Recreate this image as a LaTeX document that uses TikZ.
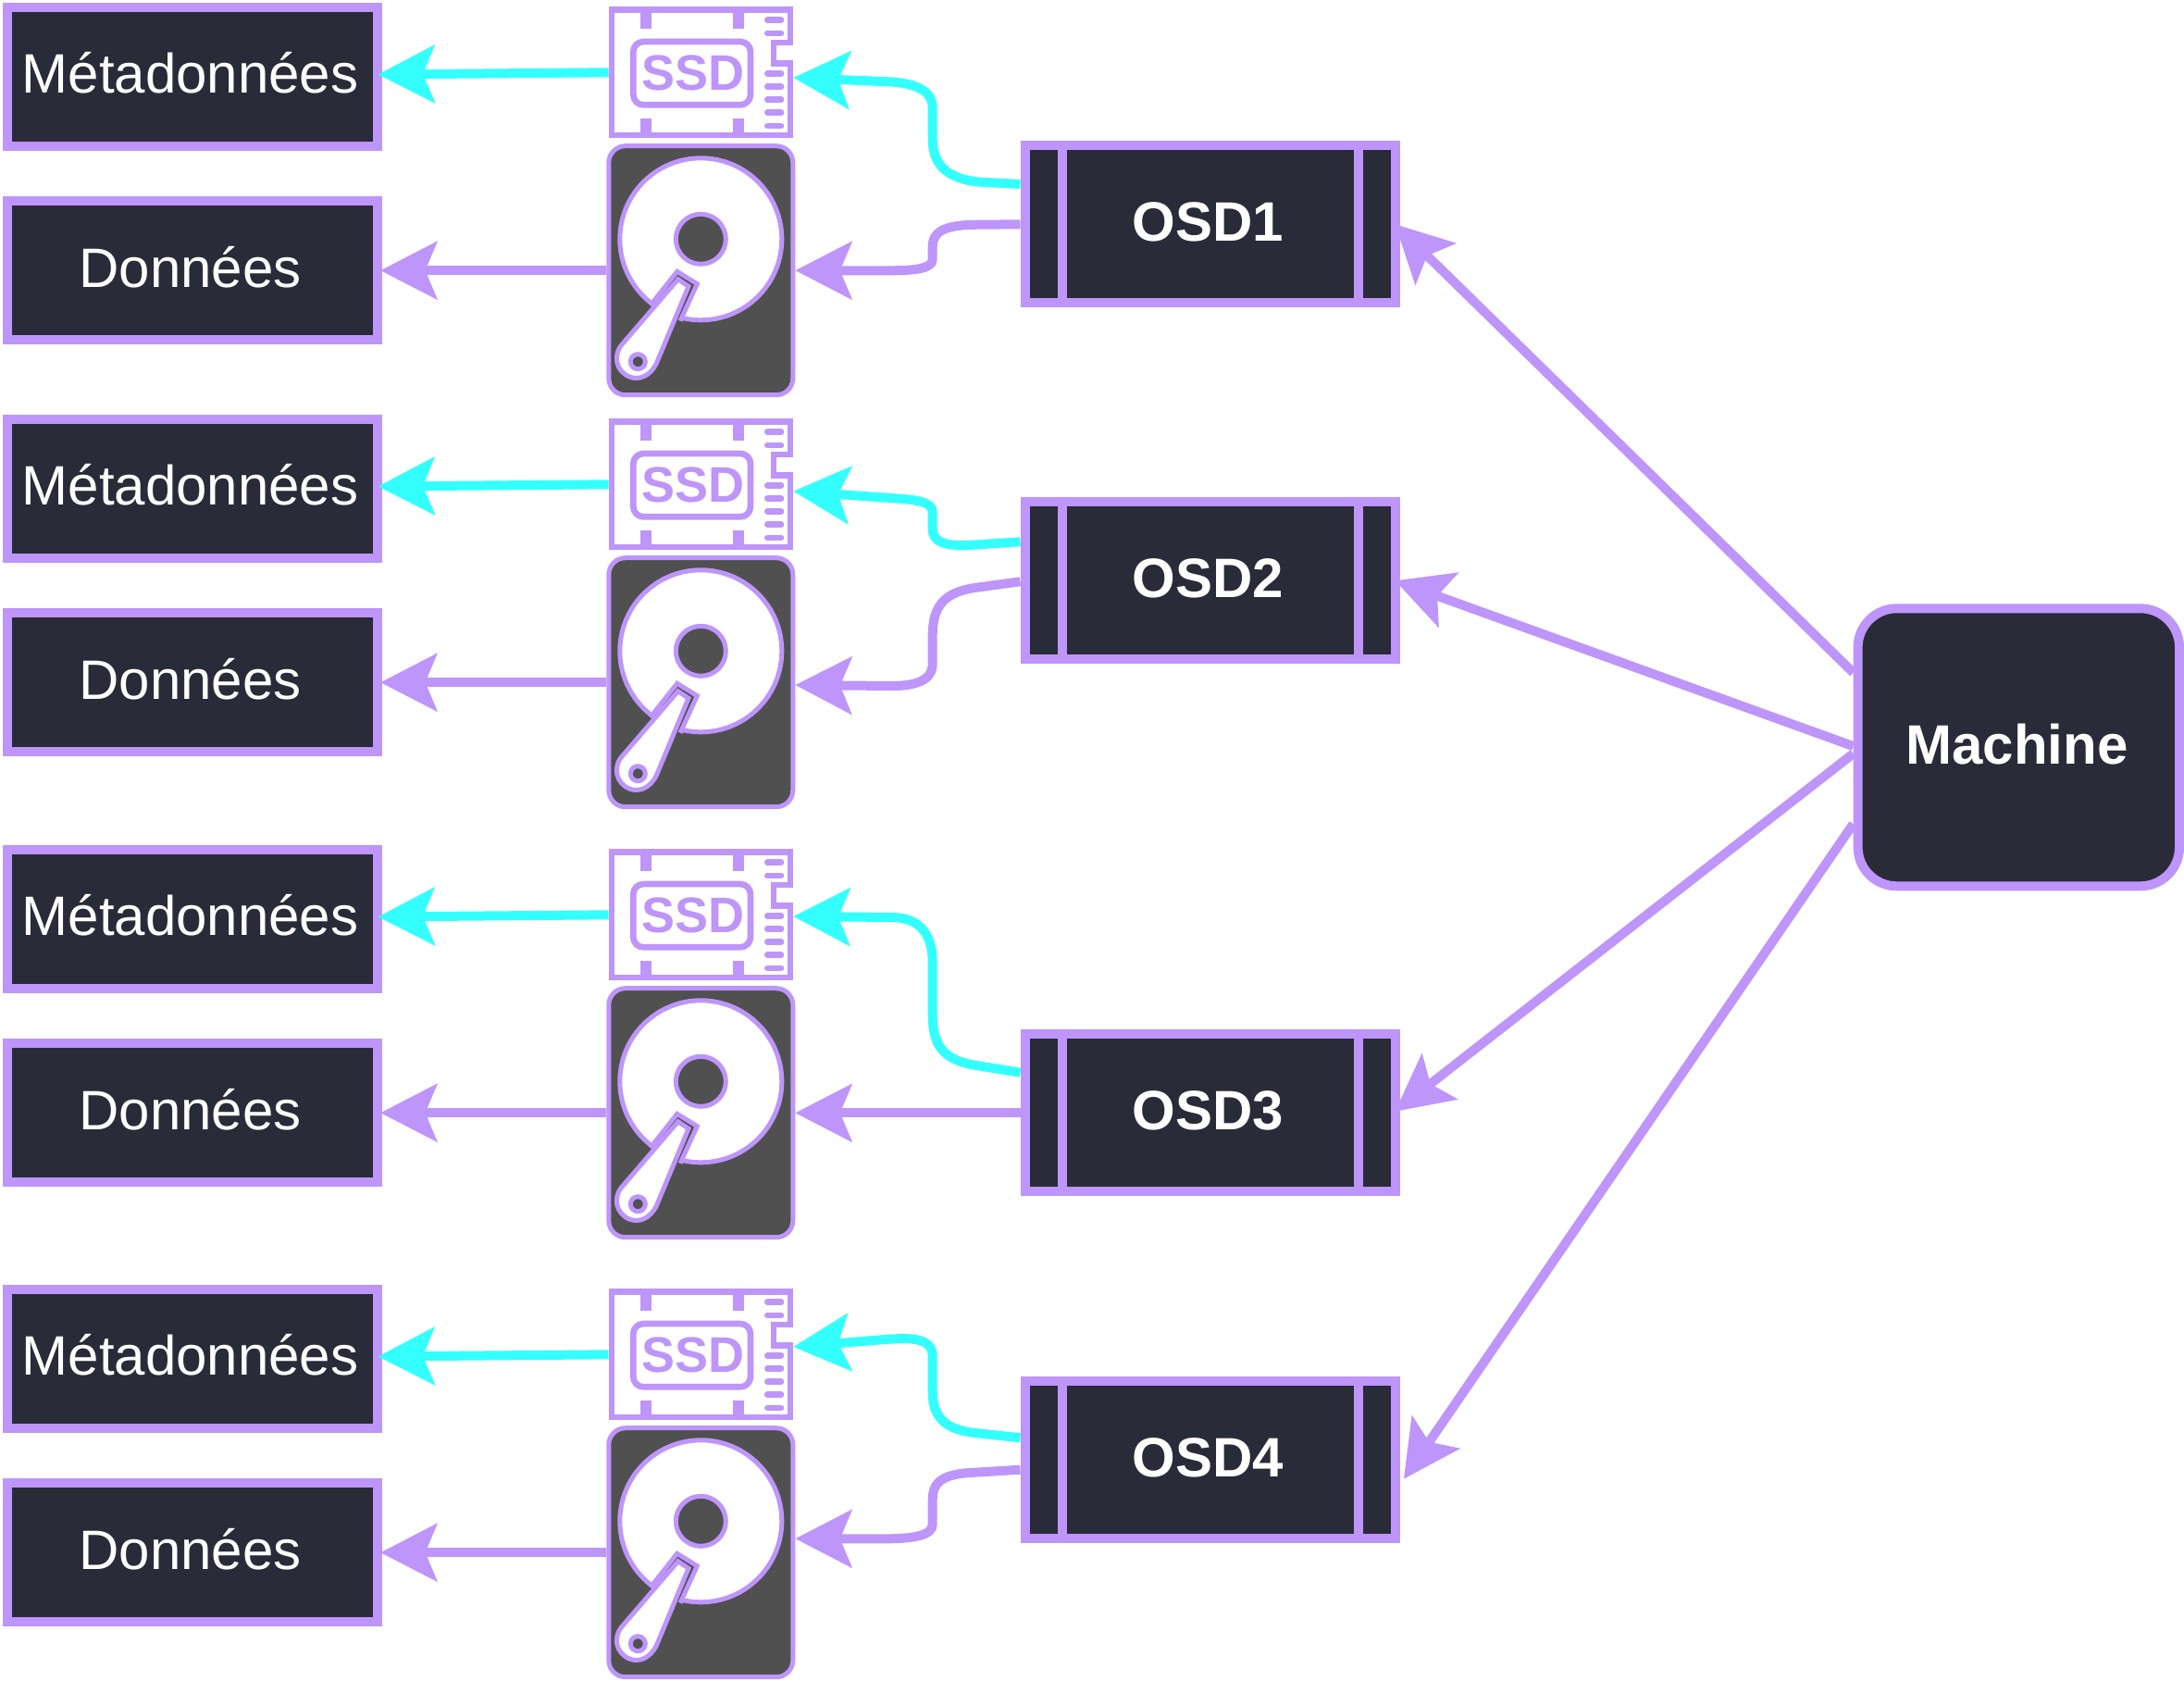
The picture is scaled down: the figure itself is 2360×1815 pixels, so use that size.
\documentclass[tikz,border=0pt]{standalone}
\usepackage{fontspec}
\setmainfont{Liberation Sans}
\usetikzlibrary{arrows.meta}
\definecolor{violetline}{HTML}{BE95FA}
\definecolor{darkfill}{HTML}{2A2B38}
\definecolor{diskfill}{HTML}{505050}
\definecolor{cyanline}{HTML}{33FFFF}
\tikzset{
	storebox/.style={draw=violetline,fill=darkfill,line width=5pt,inner sep=0pt,text=white,
		minimum width=200pt,minimum height=75pt,text height=24pt,text depth=6pt,
		execute at end node=\hspace*{2pt},
		font=\fontsize{30pt}{30pt}\selectfont},
	osdbox/.style={storebox,minimum height=85pt,font=\fontsize{30pt}{30pt}\selectfont\bfseries},
	machinebox/.style={osdbox,rounded corners=21pt,minimum width=173.7pt,minimum height=150pt},
	ssdbox/.style={inner sep=0pt,outer sep=0pt,minimum width=99.8pt,minimum height=71pt},
	ssdline/.style={draw=violetline,line width=3.35pt},
	ssdtext/.style={inner sep=0pt,text=violetline,font=\fontsize{27pt}{27pt}\selectfont\bfseries},
	hddbox/.style={draw=violetline,fill=diskfill,line width=2.5pt,rounded corners=9pt,inner sep=0pt,
		minimum width=99.5pt,minimum height=134.5pt},
	diskline/.style={draw=violetline,line width=2.5pt},
	flowline/.style={draw=violetline,line width=5pt,-{Stealth[length=30.5pt,width=31pt,inset=6.3pt]}},
	flowcyan/.style={flowline,draw=cyanline,-{Stealth[length=30.5pt,width=31pt,inset=6.3pt,fill=cyanline]}}
}
\begin{document}
\begin{tikzpicture}[x=0.5pt,y=-0.5pt]
	\useasboundingbox (0,0) rectangle (2360,1815);
	
	% one row per OSD: two boxes, the ssd and the disk
	\foreach \r/\off in {1/0,2/445,3/910,4/1385}{
		\begin{scope}[shift={(0,\off)}]
			\node[storebox] (meta\r) at (207.5,82.5) {Métadonnées};
			\node[storebox] (data\r) at (207.5,292.2) {Données};
			
			% ssd
			\node[ssdbox] (ssd\r) at (757.5,78.3) {};
			\draw[ssdline,fill=white](661,10.7)--(854,10.7)--(854,46)--(836,46)--(836,68.3)--(854,68.3)--(854,146)--(661,146)--cycle;
			\foreach \x in {691.7,791.7}{
				\fill[violetline](\x,10.7) rectangle (\x+12.6,30.7);
				\fill[violetline](\x,127.7) rectangle (\x+12.6,146);
			}
			\foreach \y in {21.7,36,79.3,93.3,107.7,121.7,136}{
				\draw[ssdline,line cap=round](829.3,\y)--(844,\y);
			}
			\draw[ssdline,rounded corners=5.5pt](684.3,45) rectangle (811,113.3);
			\node[ssdtext] (ssdlabel\r) at (748.7,79.3) {SSD};
			
			% disk
			\node[hddbox] (hdd\r) at (757.3,292.2) {};
			\draw[diskline,fill=white](757.3,258.3) circle [radius=43.75pt];
			\draw[diskline,fill=diskfill](757.3,258.3) circle [radius=13.5pt];
			\fill[diskfill](701.5,331.5)--(731.7,293.3)--(753.3,306.7)--(734.5,349)--(713,349)--cycle;
			\draw[diskline,line join=miter](702.7,330)--(731.7,293.3)--(753.3,306.7)--(735,346.7);
			\draw[diskline,fill=white,line join=miter](673.3,370.7)--(732.7,301.7)--(744,309.3)--(709.3,392.7) .. controls (702,407) and (690,411) .. (680,407) .. controls (666,401) and (661,384) .. (673.3,370.7)--cycle;
			\draw[diskline,fill=diskfill](689.3,390.7) circle [radius=4pt];
		\end{scope}
		\draw[flowcyan] (ssd\r.west) -- ([shift={(-2pt,1pt)}]meta\r.east);
		\draw[flowline] (hdd\r.west) -- ([xshift=-0.7pt]data\r.east);
	}
	
	\node[osdbox] (osd1) at (1307.5,242.3) {OSD1};
	\node[osdbox] (osd2) at (1307.5,627.3) {OSD2};
	\node[osdbox] (osd3) at (1307.5,1202.3) {OSD3};
	\node[osdbox] (osd4) at (1307.5,1577.3) {OSD4};
	\foreach \r in {1,2,3,4}{
		\draw[violetline,line width=5pt]([xshift=22.5pt]osd\r.north west)--([xshift=22.5pt]osd\r.south west);
		\draw[violetline,line width=5pt]([xshift=-22.5pt]osd\r.north east)--([xshift=-22.5pt]osd\r.south east);
	}
	\node[machinebox] (machine) at (2181.3,807.3) {Machine};
	
	% osd to ssd
	\draw[flowcyan] ([yshift=21.65pt]osd1.west) -- (1058.8,196.7) .. controls (1020,193) and (1007.7,175) .. (1007.7,150) -- (1007.7,116.7) .. controls (1007.7,98) and (990,90) .. (960.5,88.3) -- ([yshift=-2.85pt]ssd1.east);
	\draw[flowcyan] ([yshift=21pt]osd2.west) -- (1046.7,589) .. controls (1020,590) and (1007.7,585) .. (1007.7,571.7) -- (1007.7,553.3) .. controls (1007.7,542) and (990,540) .. (966.7,538.3) -- ([yshift=-3.7pt]ssd2.east);
	\draw[flowcyan] ([yshift=21.8pt]osd3.west) -- (1053.3,1150.7) .. controls (1020,1145) and (1007.7,1130) .. (1007.7,1096.7) -- (1007.7,1040) .. controls (1007.7,1005) and (990,991) .. (963.3,991) -- ([yshift=-0.85pt]ssd3.east);
	\draw[flowcyan] ([yshift=12pt]osd4.west) -- (1056.7,1548.3) .. controls (1020,1545) and (1007.7,1530) .. (1007.7,1503.3) -- (1007.7,1465) .. controls (1007.7,1450) and (995,1446) .. (973.3,1446) -- (956.7,1447) -- ([yshift=4.15pt]ssd4.east);
	
	% osd to disk
	\draw[flowline] (osd1.west) -- (1058.8,242.7) .. controls (1020,242.7) and (1007.7,250) .. (1007.7,266.7) -- (1007.7,280) .. controls (1007.7,290) and (990,292.3) .. (960.5,292.3) -- (hdd1.east);
	\draw[flowline] ([yshift=-0.5pt]osd2.west) -- (1053.3,635) .. controls (1020,640) and (1007.7,655) .. (1007.7,686.7) -- (1007.7,716.7) .. controls (1007.7,735) and (990,741) .. (963.3,741) -- ([yshift=-1.4pt]hdd2.east);
	\draw[flowline] (osd3.west) -- (hdd3.east |- osd3.west);
	\draw[flowline] ([yshift=-5.2pt]osd4.west) -- (1053.3,1590.7) .. controls (1020,1592) and (1007.7,1600) .. (1007.7,1620) -- (1007.7,1646.7) .. controls (1007.7,1658) and (990,1662.3) .. (956.7,1662.3) -- ([yshift=7.5pt]hdd4.east);
	
	% machine to osd
	\draw[flowline] ([yshift=40.3pt]machine.west) -- ([xshift=-2.5pt]osd1.east);
	\draw[flowline] ([yshift=0.6pt]machine.west) -- ([xshift=-2.5pt]osd2.east);
	\draw[flowline] ([yshift=-3.4pt]machine.west) -- ([shift={(-2.5pt,0.8pt)}]osd3.east);
	\draw[flowline] ([yshift=-41.4pt]machine.west) -- ([shift={(2.2pt,-10.2pt)}]osd4.east);
\end{tikzpicture}
\end{document}
